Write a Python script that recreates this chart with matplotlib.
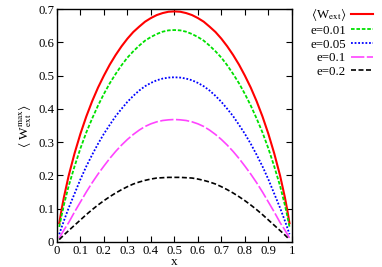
import matplotlib
matplotlib.use("Agg")
import matplotlib.pyplot as plt

plt.rcParams["font.family"] = ["Liberation Serif", "DejaVu Serif"]
plt.rcParams["mathtext.fontset"] = "stix"

x = [0.01, 0.02, 0.03, 0.05, 0.075, 0.1, 0.125, 0.15, 0.175, 0.2, 0.225, 0.25, 0.275,
     0.3, 0.325, 0.35, 0.375, 0.4, 0.425, 0.45, 0.475, 0.5,
     0.525, 0.55, 0.575, 0.6, 0.625, 0.65, 0.675, 0.7, 0.725, 0.75, 0.775, 0.8,
     0.825, 0.85, 0.875, 0.9, 0.925, 0.95, 0.97, 0.98, 0.99]

w_ext = [0.056, 0.098, 0.135, 0.199, 0.266, 0.325, 0.377, 0.423, 0.464, 0.500, 0.533, 0.562, 0.588,
         0.611, 0.631, 0.647, 0.662, 0.673, 0.682, 0.688, 0.692, 0.693,
         0.692, 0.688, 0.682, 0.673, 0.662, 0.647, 0.631, 0.611, 0.588, 0.562, 0.533, 0.500,
         0.464, 0.423, 0.377, 0.325, 0.266, 0.199, 0.135, 0.098, 0.056]
e001 = [0.045, 0.080, 0.112, 0.168, 0.227, 0.281, 0.329, 0.371, 0.410, 0.445, 0.477, 0.505, 0.531,
        0.554, 0.573, 0.590, 0.605, 0.616, 0.625, 0.632, 0.636, 0.637,
        0.636, 0.632, 0.625, 0.616, 0.605, 0.590, 0.573, 0.554, 0.531, 0.505, 0.477, 0.445,
        0.410, 0.371, 0.329, 0.281, 0.227, 0.168, 0.112, 0.080, 0.045]
e005 = [0.023, 0.044, 0.064, 0.102, 0.145, 0.188, 0.227, 0.262, 0.295, 0.325, 0.352, 0.378, 0.400,
        0.421, 0.439, 0.455, 0.468, 0.478, 0.486, 0.491, 0.494, 0.495,
        0.494, 0.491, 0.486, 0.478, 0.468, 0.455, 0.439, 0.421, 0.400, 0.378, 0.352, 0.325,
        0.295, 0.262, 0.227, 0.188, 0.145, 0.102, 0.064, 0.044, 0.023]
e01 = [0.012, 0.024, 0.036, 0.058, 0.090, 0.120, 0.150, 0.178, 0.204, 0.228, 0.251, 0.272, 0.291,
       0.308, 0.323, 0.336, 0.347, 0.355, 0.361, 0.365, 0.367, 0.368,
       0.367, 0.365, 0.361, 0.355, 0.347, 0.336, 0.323, 0.308, 0.291, 0.272, 0.251, 0.228,
       0.204, 0.178, 0.150, 0.120, 0.090, 0.058, 0.036, 0.024, 0.012]
e02 = [0.007, 0.014, 0.021, 0.034, 0.050, 0.066, 0.082, 0.097, 0.111, 0.124, 0.136, 0.147, 0.157,
       0.166, 0.174, 0.180, 0.185, 0.189, 0.192, 0.193, 0.194, 0.194,
       0.194, 0.193, 0.192, 0.189, 0.185, 0.180, 0.174, 0.166, 0.157, 0.147, 0.136, 0.124,
       0.111, 0.097, 0.082, 0.066, 0.050, 0.034, 0.021, 0.014, 0.007]

fig = plt.figure(figsize=(3.82, 2.67), dpi=100)
ax = fig.add_axes([0.149, 0.094, 0.615, 0.872])

ax.plot(x, w_ext, color="#ff0000", lw=1.5, ls="-", label=r"$\langle$W$_{\rm ext}\rangle$")
ax.plot(x, e001, color="#00e000", lw=1.3, ls=(0, (2, 1)), label="e=0.01")
ax.plot(x, e005, color="#0000ff", lw=1.3, ls=(0, (1, 1)), label="e=0.05")
ax.plot(x, e01, color="#ff44ff", lw=1.2, ls=(0, (8, 1.5)), label="e=0.1")
ax.plot(x, e02, color="#000000", lw=1.2, ls=(0, (3, 1.5)), label="e=0.2")

ax.set_xlim(0, 1)
ax.set_ylim(0, 0.7)
ax.set_xticks([0, 0.1, 0.2, 0.3, 0.4, 0.5, 0.6, 0.7, 0.8, 0.9, 1])
ax.set_xticklabels(["0", "0.1", "0.2", "0.3", "0.4", "0.5", "0.6", "0.7", "0.8", "0.9", "1"])
ax.set_yticks([0, 0.1, 0.2, 0.3, 0.4, 0.5, 0.6, 0.7])
ax.set_yticklabels(["0", "0.1", "0.2", "0.3", "0.4", "0.5", "0.6", "0.7"])
ax.tick_params(direction="in", top=True, right=True, length=4, width=0.8,
               labelsize=9.2, pad=2)
for s in ax.spines.values():
    s.set_linewidth(1.0)

ax.set_xlabel("x", fontsize=9.5, va="center")
ax.xaxis.set_label_coords(0.5, -0.085)
ax.set_ylabel(r"$\langle$ W$_{\rm ext}^{\rm max}\rangle$", fontsize=9.5, labelpad=3)

leg = ax.legend(loc="upper left", bbox_to_anchor=(1.045, 1.045), frameon=False,
                markerfirst=False, fontsize=9.3, handlelength=1.7,
                handletextpad=0.4, labelspacing=0.12, borderaxespad=0.2)
for t in leg.get_texts():
    t.set_ha("right")
leg._legend_box.align = "right"

fig.savefig("out.png", dpi=100)
